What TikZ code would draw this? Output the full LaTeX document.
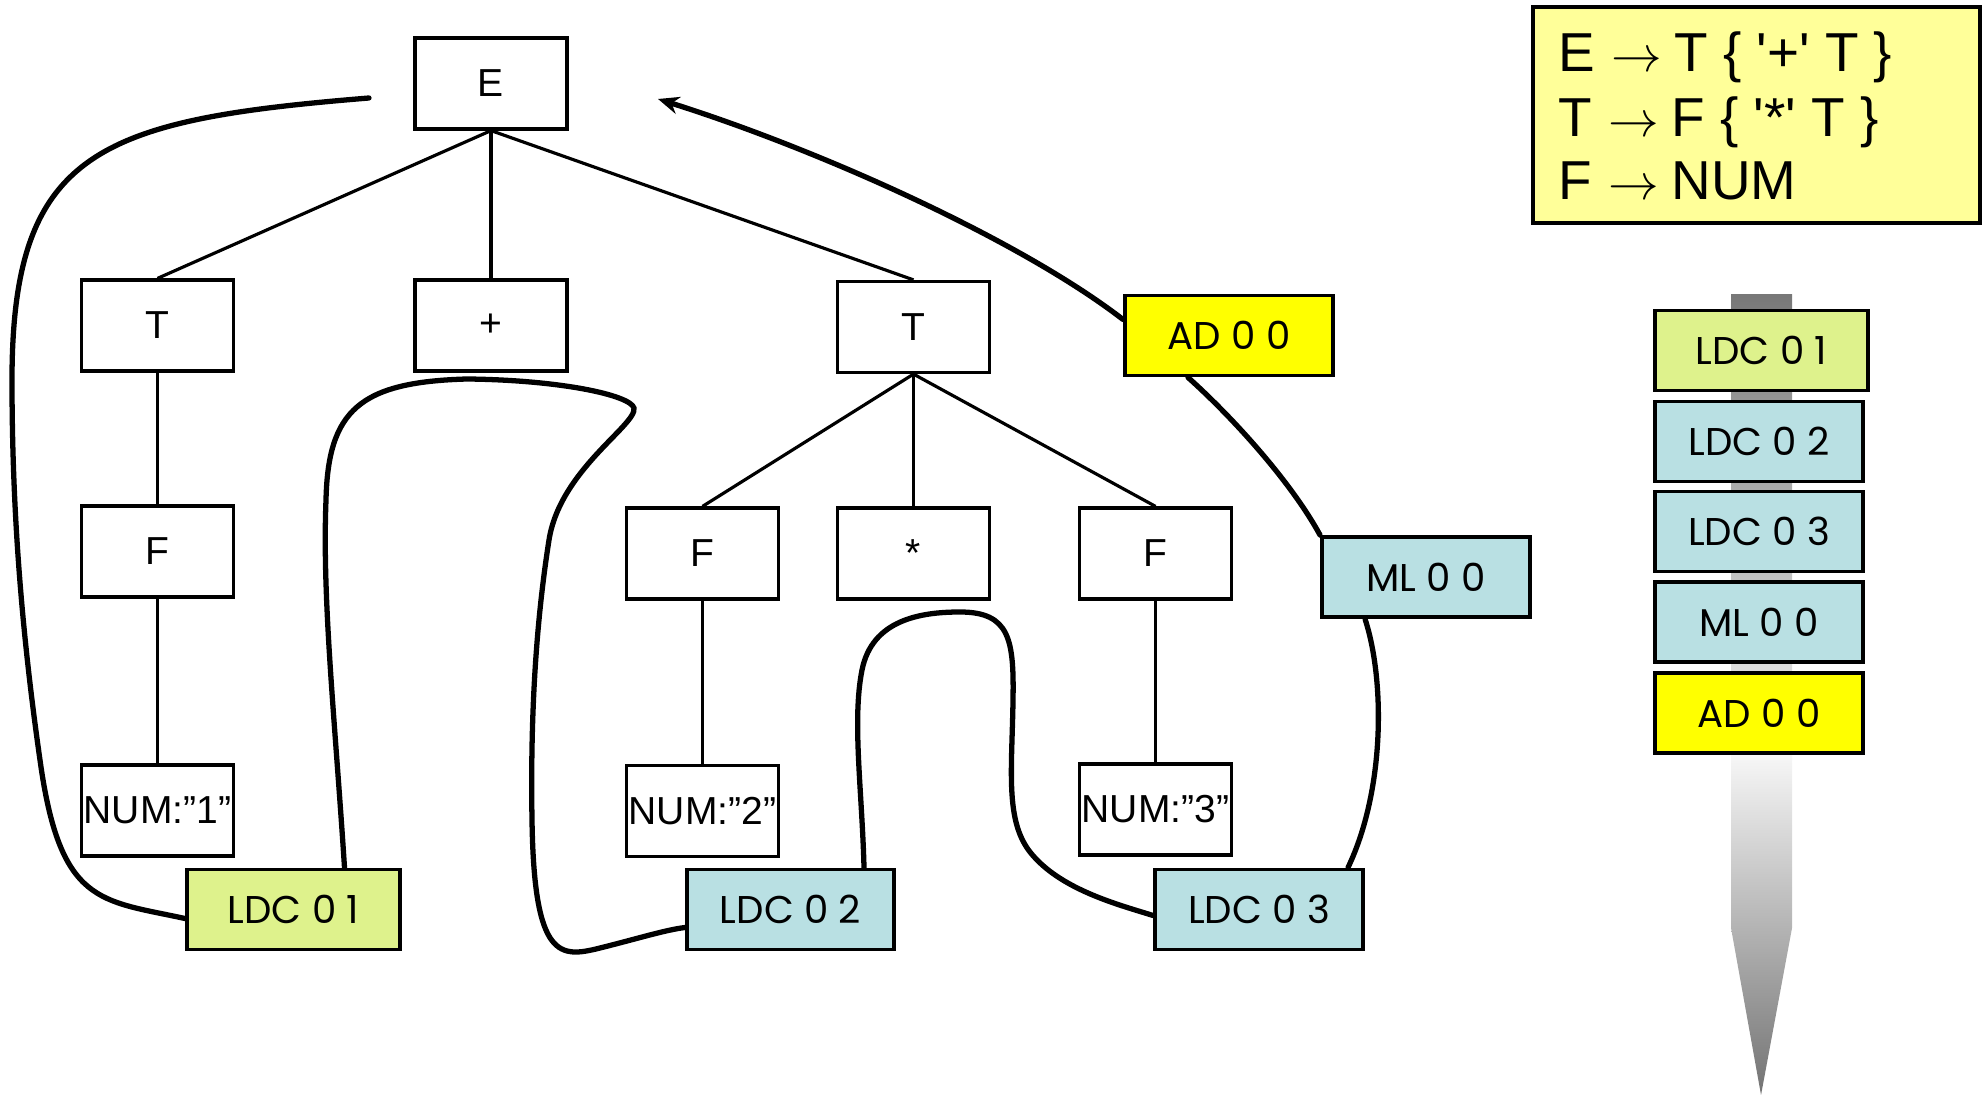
\documentclass[tikz,border=0pt]{standalone}
\usepackage{fontspec}
\setmainfont{Liberation Sans}
\newfontfamily\handfont{Poppins}
\usetikzlibrary{arrows.meta,calc}
\definecolor{ldcgreen}{HTML}{DEF28C}
\definecolor{ldcblue}{HTML}{B9E0E3}
\definecolor{adyellow}{HTML}{FFFF00}
\definecolor{gramyellow}{HTML}{FFFF99}
\newcommand{\prodarrow}{\hspace{0.3em}$\rightarrow$\hspace{0.22em}}

\begin{document}
\begin{tikzpicture}[x=0.01cm,y=-0.01cm,
  treenode/.style={draw, line width=0.9pt, fill=white, minimum width=1.52cm,
    minimum height=0.91cm, inner sep=0pt, font=\fontsize{11.1}{13}\selectfont},
  instr/.style={draw, line width=1.1pt, minimum width=2.08cm, minimum height=0.80cm,
    inner sep=0pt, font=\handfont\fontsize{11}{13}\selectfont},
  treeline/.style={line width=0.9pt},
  flow/.style={line width=1.5pt, line cap=round},
  gramtext/.style={anchor=base west, inner sep=0pt, font=\fontsize{15.6}{18}\selectfont},
]
\useasboundingbox (0,0) rectangle (1983,1095);

% parse tree
\node[treenode] (E)  at (491,83.5)   {E};
\node[treenode] (T1) at (157.5,325.5) {T};
\node[treenode] (P)  at (491,325.5)  {+};
\node[treenode] (T2) at (913.5,327)  {T};
\node[treenode] (F1) at (157.5,551.5) {F};
\node[treenode] (F2) at (702.5,553.5) {F};
\node[treenode] (M)  at (913.5,553.5) {*};
\node[treenode] (F3) at (1155.5,553.5) {F};
\node[treenode] (N1) at (157.5,810.5) {NUM:”1”};
\node[treenode] (N2) at (702.5,811)  {NUM:”2”};
\node[treenode] (N3) at (1155.5,809.5) {NUM:”3”};

\draw[treeline] (E.south) -- (T1.north);
\draw[treeline] (E.south) -- (P.north);
\draw[treeline] (E.south) -- (T2.north);
\draw[treeline] (T1.south) -- (F1.north);
\draw[treeline] (F1.south) -- (N1.north);
\draw[treeline] (T2.south) -- (F2.north);
\draw[treeline] (T2.south) -- (M.north);
\draw[treeline] (T2.south) -- (F3.north);
\draw[treeline] (F2.south) -- (N2.north);
\draw[treeline] (F3.south) -- (N3.north);

% generated instructions beside the tree
\node[instr, fill=ldcgreen, minimum width=2.13cm] (l1) at (293.5,909.5) {LDC 0 1};
\node[instr, fill=ldcblue, minimum width=2.07cm]  (l2) at (790.5,909.5) {LDC 0 2};
\node[instr, fill=ldcblue]  (l3) at (1259,909.5) {LDC 0 3};
\node[instr, fill=ldcblue]  (ml) at (1426,577)   {ML 0 0};
\node[instr, fill=adyellow] (ad) at (1229,335.5) {AD 0 0};

% traversal order
\coordinate (c1end) at (369,98);
\coordinate (c6end) at (658,99);
\draw[flow] ($(l1.west)+(0,9)$) .. controls (100,900) and (60,905) .. (40,760)
  .. controls (20,620) and (12,500) .. (12,380)
  .. controls (12,150) and (100,120) .. (c1end);
\draw[flow] ($(l1.north)+(51,0)$) .. controls (335,720) and (322,600) .. (326,500)
  .. controls (328,410) and (360,382) .. (467,379)
  .. controls (560,380) and (630,395) .. (634,408)
  .. controls (637,425) and (560,470) .. (549,540)
  .. controls (538,610) and (530,700) .. (532,820)
  .. controls (534,960) and (560,958) .. (600,948)
  .. controls (640,938) and (665,930) .. ($(l2.west)+(0,18)$);
\draw[flow] ($(l2.north)+(73.5,0)$) .. controls (862,790) and (852,720) .. (862,670)
  .. controls (872,620) and (920,612) .. (960,612)
  .. controls (1010,612) and (1014,640) .. (1013,700)
  .. controls (1012,770) and (1005,820) .. (1030,852)
  .. controls (1060,890) and (1120,905) .. ($(l3.west)+(0,6)$);
\draw[flow] ($(l3.north)+(89,0)$) .. controls (1385,790) and (1385,680) .. ($(ml.south)+(-61,0)$);
\draw[flow] (ml.north west) .. controls (1290,480) and (1230,415) .. ($(ad.south)+(-41,0)$);
\draw[flow, -{Stealth[length=6pt,width=5pt]}] ($(ad.west)+(0,-16)$)
  .. controls (1020,240) and (820,150) .. (c6end);

% grammar
\node[draw, line width=1.3pt, fill=gramyellow, minimum width=4.47cm,
  minimum height=2.16cm, inner sep=0pt] (gram) at (1756.5,115) {};
\node[gramtext] (g1) at (1558,72)  {E\prodarrow T \{ \textquotesingle+\textquotesingle{} T \}};
\node[gramtext] (g2) at (1558,137) {T\prodarrow F \{ \textquotesingle*\textquotesingle{} T \}};
\node[gramtext] (g3) at (1558,200) {F\prodarrow NUM};

% code stack with its run direction
\shade[top color=black!53, bottom color=black!4] (1731,295) rectangle (1792,760);
\shade[top color=black!3, bottom color=black!55]
  (1731,753) -- (1792,753) -- (1792,928) -- (1761,1095) -- (1731,928) -- cycle;
\node[instr, fill=ldcgreen, minimum width=2.13cm] (s1) at (1761.5,350.5) {LDC 0 1};
\node[instr, fill=ldcblue]  (s2) at (1759,441.5) {LDC 0 2};
\node[instr, fill=ldcblue]  (s3) at (1759,531.5) {LDC 0 3};
\node[instr, fill=ldcblue]  (s4) at (1759,622)   {ML 0 0};
\node[instr, fill=adyellow] (s5) at (1759,713)   {AD 0 0};
\end{tikzpicture}
\end{document}
